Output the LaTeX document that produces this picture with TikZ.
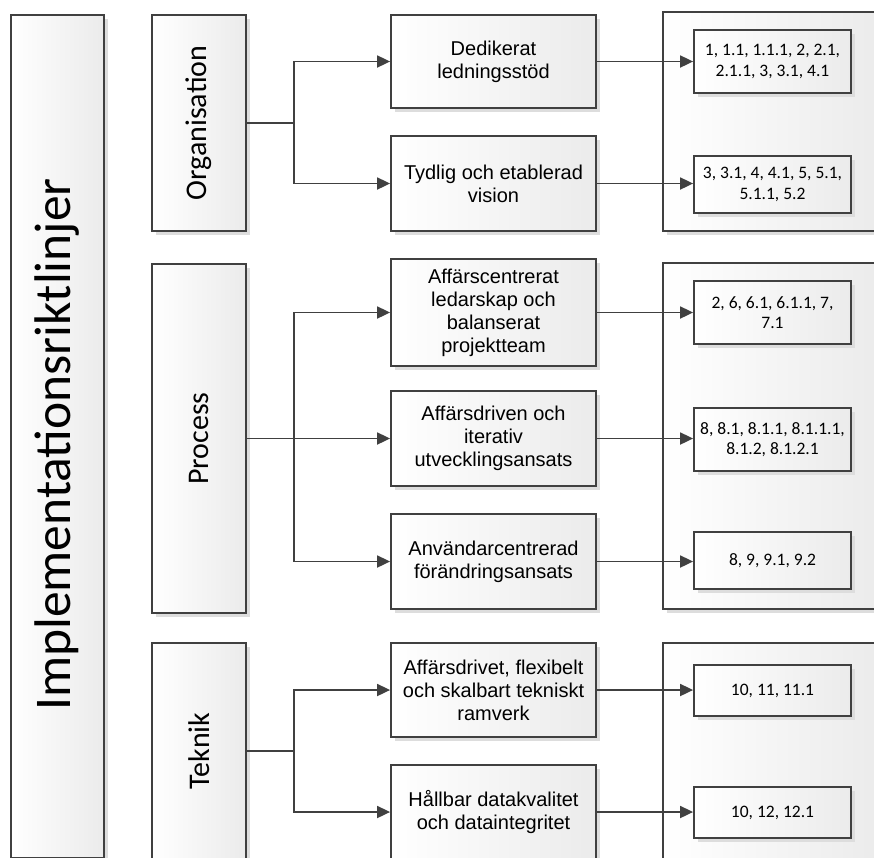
\documentclass[tikz,border=0pt]{standalone}
\usepackage{fontspec}
\setmainfont{Carlito}
\newfontfamily\arialf{Liberation Sans}
\usetikzlibrary{arrows.meta,shadows,calc}
\definecolor{edge}{HTML}{404040}
\definecolor{shade}{HTML}{EBEBEB}
\definecolor{shadowc}{HTML}{DDDDDD}
\tikzset{
 box/.style={draw=edge, line width=1.8pt, left color=white, right color=shade, inner sep=0pt,
   drop shadow={shadow xshift=3.5pt, shadow yshift=-3.5pt, fill=shadowc, opacity=1}},
 subbox/.style={box, minimum width=205pt, font=\arialf\fontsize{20}{23}\selectfont, align=center},
 refbox/.style={box, minimum width=157pt, font=\fontsize{17.5}{20.5}\selectfont, align=center},
 catbox/.style={box, minimum width=94pt},
 contbox/.style={box, minimum width=217pt},
 vtext/.style={font=\fontsize{30}{36}\selectfont, rotate=90, inner sep=0pt},
 conn/.style={draw=edge, line width=1.8pt},
 arr/.style={conn, -{Triangle[length=13pt,width=12pt]}},
}
\begin{document}
\begin{tikzpicture}[x=1pt,y=-1pt]
\useasboundingbox (0,0) rectangle (874,857);
\clip (0,0) rectangle (874,857);
% main box
\node[box, minimum width=93pt, minimum height=843pt] (main) at (57.5,436.5) {};
\node[vtext, font=\fontsize{51.5}{60}\selectfont] (mainlbl) at ([yshift=-8pt]main.center) {Implementationsriktlinjer};
% categories
\node[catbox, minimum height=216pt] (org) at (199,123) {};
\node[vtext] (orglbl) at (org.center) {Organisation};
\node[catbox, minimum height=349pt] (proc) at (199,438.5) {};
\node[vtext] (proclbl) at (proc.center) {Process};
\node[catbox, minimum height=216pt] (tek) at (199,751) {};
\node[vtext] (teklbl) at (tek.center) {Teknik};
% sub boxes
\node[subbox, minimum height=93pt] (d1) at (493.5,61.5) {Dedikerat\\ledningsstöd};
\node[subbox, minimum height=95pt] (d2) at (493.5,183.5) {Tydlig och etablerad\\vision};
\node[subbox, minimum height=107pt] (p1) at (493.5,312.5) {Affärscentrerat\\ledarskap och\\balanserat\\projektteam};
\node[subbox, minimum height=95pt] (p2) at (493.5,438.5) {Affärsdriven och\\iterativ\\utvecklingsansats};
\node[subbox, minimum height=95pt] (p3) at (493.5,561.5) {Användarcentrerad\\förändringsansats};
\node[subbox, minimum height=94pt] (t1) at (493.5,690) {Affärsdrivet, flexibelt\\och skalbart tekniskt\\ramverk};
\node[subbox, minimum height=94pt] (t2) at (493.5,812) {Hållbar datakvalitet\\och dataintegritet};
% containers
\node[contbox, minimum height=219pt] (c1) at (771.5,121.5) {};
\node[contbox, minimum height=346pt] (c2) at (771.5,436) {};
\node[contbox, minimum height=216pt] (c3) at (771.5,751) {};
% reference boxes
\node[refbox, minimum height=63pt] (r1) at (772.5,61.5) {1, 1.1, 1.1.1, 2, 2.1,\\2.1.1, 3, 3.1, 4.1};
\node[refbox, minimum height=57pt] (r2) at (772.5,184.5) {3, 3.1, 4, 4.1, 5, 5.1,\\5.1.1, 5.2};
\node[refbox, minimum height=63pt] (r3) at (772.5,312.5) {2, 6, 6.1, 6.1.1, 7,\\7.1};
\node[refbox, minimum height=63pt] (r4) at (772.5,439.5) {8, 8.1, 8.1.1, 8.1.1.1,\\8.1.2, 8.1.2.1};
\node[refbox, minimum height=57pt] (r5) at (772.5,560.5) {8, 9, 9.1, 9.2};
\node[refbox, minimum height=51pt] (r6) at (772.5,690.5) {10, 11, 11.1};
\node[refbox, minimum height=51pt] (r7) at (772.5,812.5) {10, 12, 12.1};
% junctions
\coordinate (jo) at ([xshift=47pt]org.east);
\coordinate (jp) at ([xshift=47pt]proc.east);
\coordinate (jt) at ([xshift=47pt]tek.east);
\draw[conn] (org.east) -- (jo);
\draw[arr] (jo) |- (d1.west);
\draw[arr] (jo) |- (d2.west);
\draw[conn] (proc.east) -- (jp);
\draw[arr] (jp) |- (p1.west);
\draw[arr] (jp) |- (p2.west);
\draw[arr] (jp) |- (p3.west);
\draw[conn] (tek.east) -- (jt);
\draw[arr] (jt) |- (t1.west);
\draw[arr] (jt) |- (t2.west);
% to references
\draw[arr] (d1.east) -- (d1.east -| r1.west);
\draw[arr] (d2.east) -- (d2.east -| r2.west);
\draw[arr] (p1.east) -- (p1.east -| r3.west);
\draw[arr] (p2.east) -- (p2.east -| r4.west);
\draw[arr] (p3.east) -- (p3.east -| r5.west);
\draw[arr] (t1.east) -- (t1.east -| r6.west);
\draw[arr] (t2.east) -- (t2.east -| r7.west);
\end{tikzpicture}
\end{document}
